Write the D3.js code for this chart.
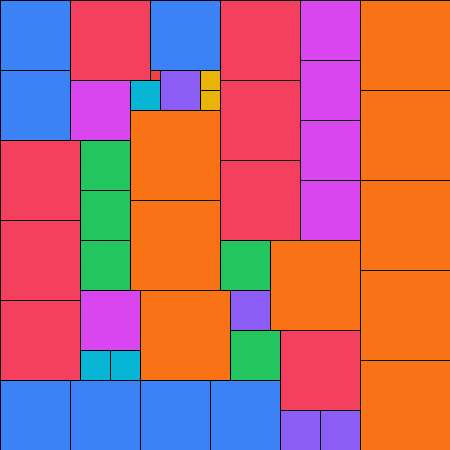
<!DOCTYPE html>
<html>
<head>
<meta charset="utf-8">
<script src="https://cdn.jsdelivr.net/npm/d3@7"></script>
<style>
  html, body { margin: 0; padding: 0; background: #fff; }
  svg { display: block; }
</style>
</head>
<body>
<svg id="chart" width="450" height="450"></svg>
<script>
// Square side lengths (units) and their colours
const sizes = [9, 8, 7, 6, 5, 4, 3, 2, 1];
const sizeColors = ['#f97316', '#f43f5e', '#3b82f6', '#d946ef', '#22c55e', '#8b5cf6', '#06b6d4', '#eab308', '#ef4444'];

// Each square: side, column, row (in units of the 45x45 board)
const squareSide = [
  9, 9, 9, 9, 9, 9, 9, 9, 9,
  8, 8, 8, 8, 8, 8, 8, 8,
  7, 7, 7, 7, 7, 7, 7,
  6, 6, 6, 6, 6, 6,
  5, 5, 5, 5, 5,
  4, 4, 4, 4,
  3, 3, 3,
  2, 2,
  1
];
const squareCol = [
  36, 36, 36, 36, 36, 13, 13, 27, 14,
  7, 22, 22, 22, 0, 0, 0, 28,
  0, 0, 15, 0, 7, 14, 21,
  7, 30, 30, 30, 30, 8,
  8, 8, 8, 22, 23,
  16, 23, 28, 32,
  13, 8, 11,
  20, 20,
  15
];
const squareRow = [
  0, 9, 18, 27, 36, 11, 20, 24, 29,
  0, 0, 8, 16, 14, 22, 30, 33,
  0, 7, 0, 38, 38, 38, 38,
  8, 0, 6, 12, 18, 29,
  14, 19, 24, 24, 33,
  7, 29, 41, 41,
  8, 35, 35,
  7, 9,
  7
];

const board = 45;
const width = 450, height = 450;

const x = d3.scaleLinear().domain([0, board]).range([0, width]);
const y = d3.scaleLinear().domain([0, board]).range([0, height]);
const color = d3.scaleOrdinal().domain(sizes).range(sizeColors);

const data = squareSide.map((s, i) => ({ side: s, col: squareCol[i], row: squareRow[i] }));

const svg = d3.select('#chart');

svg.selectAll('rect.sq')
  .data(data)
  .enter().append('rect')
  .attr('class', 'sq')
  .attr('x', d => x(d.col))
  .attr('y', d => y(d.row))
  .attr('width', d => x(d.side) - x(0))
  .attr('height', d => y(d.side) - y(0))
  .attr('fill', d => color(d.side))
  .attr('stroke', '#000')
  .attr('stroke-width', 1)
  .attr('shape-rendering', 'crispEdges');
</script>
</body>
</html>
